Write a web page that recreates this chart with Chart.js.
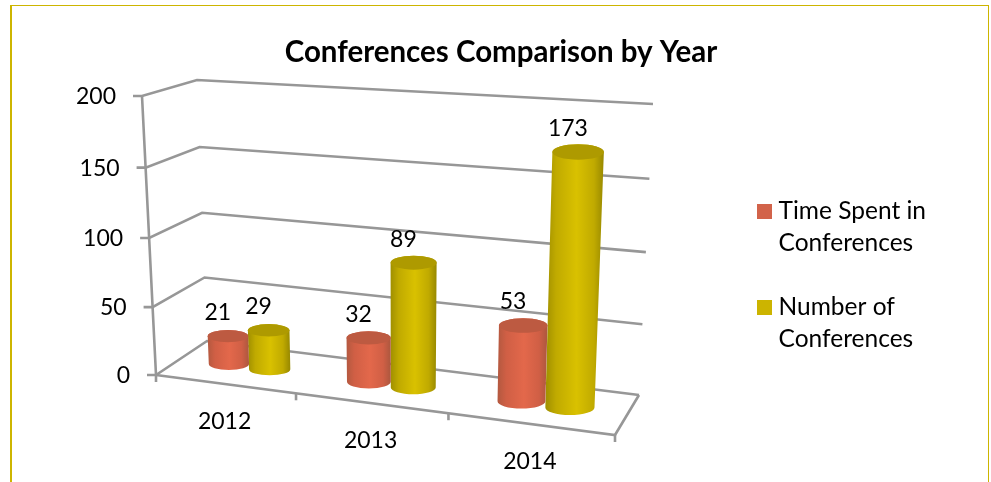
<!DOCTYPE html>
<html>
<head>
<meta charset="utf-8">
<title>Conferences Comparison by Year</title>
<script src="https://cdn.jsdelivr.net/npm/chart.js@4"></script>
<style>
html, body { margin: 0; padding: 0; background: #fff; overflow: hidden; }
#frame { position: absolute; left: 10px; top: 5px; width: 979px; height: 490px; box-sizing: border-box;
    border-left: 2px solid #cdb500; border-right: 1px solid #cdb500; border-top: 1px solid #cdb500; }
#wrap { position: absolute; left: 11px; top: 0; width: 980px; height: 482px; }
</style>
</head>
<body>
<div id="frame"></div>
<div id="wrap"><canvas id="myChart"></canvas></div>
<script>
"use strict";
// Data
const years = ["2012", "2013", "2014"];
const timeSpent = [21, 32, 53];
const numConferences = [29, 89, 173];
const timeLegend = ["Time Spent in", "Conferences"];
const numLegend = ["Number of", "Conferences"];
const axisMax = 200;
const axisStep = 50;

const FONT = "Lato, Carlito, sans-serif";
const PAGE_X = 11; // canvas sits 11px in from the page edge

// Box corners of the 3D plot in page pixels: floor and top of the walls
const floor = { fl: [156, 375], fr: [615, 435], bl: [207, 341], br: [639, 395] };
const roof = { fl: [142, 96], fr: [626.5, 124], bl: [197, 80], br: [653, 104] };
const PERSP_X = 0.878; // right side of the box is nearer to the viewer
const PERSP_Y = 0.965;

function mix(a, b, k) { return a + (b - a) * k; }
function warp(k, p) { return k * p / (1 + (p - 1) * k); }

// f across categories, d depth (0 front, 1 back), h height, all 0..1
function project(f, d, h) {
    const g = warp(f, PERSP_X);
    const v = warp(h, PERSP_Y);
    const out = [0, 1].map(function (i) {
        const low = mix(mix(floor.fl[i], floor.fr[i], g), mix(floor.bl[i], floor.br[i], g), d);
        const high = mix(mix(roof.fl[i], roof.fr[i], g), mix(roof.bl[i], roof.br[i], g), d);
        return mix(low, high, v);
    });
    return { x: out[0], y: out[1] };
}

function fractions(chart, px, py) {
    const a = chart.chartArea;
    return { f: (px - a.left) / (a.right - a.left), h: (a.bottom - py) / (a.bottom - a.top) };
}

function line(ctx, pts) {
    ctx.beginPath();
    pts.forEach(function (p, i) {
        if (i === 0) ctx.moveTo(p.x, p.y); else ctx.lineTo(p.x, p.y);
    });
    ctx.stroke();
}

function drawBox(chart) {
    const ctx = chart.ctx;
    const yScale = chart.scales.y;
    const xScale = chart.scales.x;
    ctx.save();
    ctx.translate(-PAGE_X, 0);
    ctx.filter = "blur(0.5px)";
    ctx.strokeStyle = "#979797";
    ctx.lineWidth = 2.6;
    yScale.ticks.forEach(function (t) {
        const h = t.value / axisMax;
        const p = project(0, 0, h);
        line(ctx, [{ x: p.x - 9, y: p.y }, p, project(0, 1, h), project(1, 1, h)]);
    });
    line(ctx, [project(0, 0, 1), project(0, 0, 0), { x: 156, y: 382 }]);
    line(ctx, [project(0, 0, 0), project(1, 0, 0), project(1, 1, 0)]);
    xScale.ticks.forEach(function (t, i) {
        const p = project((i + 1) / xScale.ticks.length, 0, 0);
        line(ctx, [p, { x: p.x, y: p.y + 7 }]);
    });
    ctx.filter = "none";
    // axis labels
    ctx.fillStyle = "#000";
    ctx.font = "23px " + FONT;
    ctx.textBaseline = "middle";
    ctx.textAlign = "right";
    yScale.ticks.forEach(function (t) {
        const p = project(0, 0, t.value / axisMax);
        ctx.fillText(t.label, p.x - 26, p.y + 0.5);
    });
    ctx.textAlign = "center";
    xScale.ticks.forEach(function (t, i) {
        const p = project((i + 0.5) / xScale.ticks.length, 0, 0);
        ctx.fillText(xScale.getLabelForValue(t.value), p.x, p.y + 38);
    });
    ctx.restore();
}

function drawCylinder(chart, el, shade) {
    const ctx = chart.ctx;
    const a = fractions(chart, el.x, el.y);
    const half = el.width / (chart.chartArea.right - chart.chartArea.left) / 2;
    const tl = project(a.f - half, 0.5, a.h), tr = project(a.f + half, 0.5, a.h);
    const bl = project(a.f - half, 0.5, 0), br = project(a.f + half, 0.5, 0);
    const trx = (tr.x - tl.x) / 2, brx = (br.x - bl.x) / 2;
    const tcx = (tl.x + tr.x) / 2 + 1, tcy = (tl.y + tr.y) / 2;
    const bcx = (bl.x + br.x) / 2 + 1, bcy = (bl.y + br.y) / 2;
    const grad = ctx.createLinearGradient(Math.min(tl.x, bl.x), 0, Math.max(tr.x, br.x), 0);
    grad.addColorStop(0, shade.edge);
    grad.addColorStop(0.2, shade.mid);
    grad.addColorStop(0.55, shade.light);
    grad.addColorStop(0.85, shade.mid);
    grad.addColorStop(1, shade.edge);
    ctx.fillStyle = grad;
    ctx.beginPath();
    ctx.moveTo(tcx - trx, tcy);
    ctx.lineTo(bcx - brx, bcy);
    ctx.ellipse(bcx, bcy, brx, brx * 0.3, 0, Math.PI, 0, true);
    ctx.lineTo(tcx + trx, tcy);
    ctx.ellipse(tcx, tcy, trx, trx * 0.3, 0, 0, Math.PI, true);
    ctx.closePath();
    ctx.fill();
    ctx.fillStyle = shade.top;
    ctx.beginPath();
    ctx.ellipse(tcx, tcy, trx, trx * 0.3, 0, 0, Math.PI * 2);
    ctx.fill();
}

const shades = [
    { edge: "#b0583f", mid: "#d05f45", light: "#e3684b", top: "#bd5a41" },
    { edge: "#9c8c00", mid: "#c0aa00", light: "#d9c100", top: "#ae9a00" }
];

const cylinders3d = {
    id: "cylinders3d",
    beforeDatasetsDraw: drawBox,
    beforeDatasetDraw: function (chart, args) {
        const ctx = chart.ctx;
        ctx.save();
        ctx.translate(-PAGE_X, 0);
        ctx.filter = "blur(0.6px)";
        args.meta.data.forEach(function (el) {
            drawCylinder(chart, el, shades[args.index]);
        });
        ctx.restore();
        return false;
    },
    afterDatasetsDraw: function (chart) {
        const ctx = chart.ctx;
        ctx.save();
        ctx.translate(-PAGE_X, 0);
        ctx.fillStyle = "#000";
        ctx.font = "23px " + FONT;
        ctx.textAlign = "center";
        ctx.textBaseline = "middle";
        chart.data.datasets.forEach(function (ds, i) {
            chart.getDatasetMeta(i).data.forEach(function (el, j) {
                const a = fractions(chart, el.x, el.y);
                const p = project(a.f, 0.5, a.h);
                ctx.fillText(String(ds.data[j]), p.x - 9, p.y - 23.5);
            });
        });
        ctx.restore();
    }
};

function swatch(color) {
    const c = document.createElement("canvas");
    c.width = 15;
    c.height = 15;
    const g = c.getContext("2d");
    g.fillStyle = color;
    g.fillRect(0, 0, 15, 15);
    return c;
}

const legendText = [timeLegend, numLegend];
const legendColors = ["#d2634a", "#ccb400"];

const data = {
    labels: years,
    datasets: [
        { label: timeLegend.join(" "), data: timeSpent, backgroundColor: legendColors[0] },
        { label: numLegend.join(" "), data: numConferences, backgroundColor: legendColors[1] }
    ]
};

const config = {
    type: "bar",
    data: data,
    options: {
        responsive: false,
        animation: false,
        layout: { padding: { left: 55, right: 55, bottom: 4 } },
        datasets: { bar: { categoryPercentage: 0.6, barPercentage: 1 } },
        scales: {
            x: { display: false },
            y: { display: false, min: 0, max: axisMax, ticks: { stepSize: axisStep } }
        },
        plugins: {
            title: {
                display: true,
                text: "Conferences Comparison by Year",
                color: "#000",
                font: { family: FONT, size: 29.5, weight: "bold" },
                padding: { top: 35, bottom: 10 }
            },
            legend: {
                position: "right",
                fullSize: false,
                labels: {
                    usePointStyle: true,
                    pointStyleWidth: 3,
                    boxHeight: 15,
                    padding: 32,
                    color: "#000",
                    font: { family: FONT, size: 24.5, lineHeight: 32 / 24.5 },
                    generateLabels: function (chart) {
                        return chart.data.datasets.map(function (ds, i) {
                            return {
                                text: legendText[i],
                                fillStyle: legendColors[i],
                                strokeStyle: legendColors[i],
                                lineWidth: 0,
                                pointStyle: swatch(legendColors[i]),
                                datasetIndex: i,
                                hidden: false
                            };
                        });
                    }
                }
            },
            tooltip: { enabled: false }
        }
    },
    plugins: [cylinders3d]
};

const canvas = document.getElementById("myChart");
canvas.width = 980;
canvas.height = 482;
const myChart = new Chart(canvas, config);
</script>
</body>
</html>
